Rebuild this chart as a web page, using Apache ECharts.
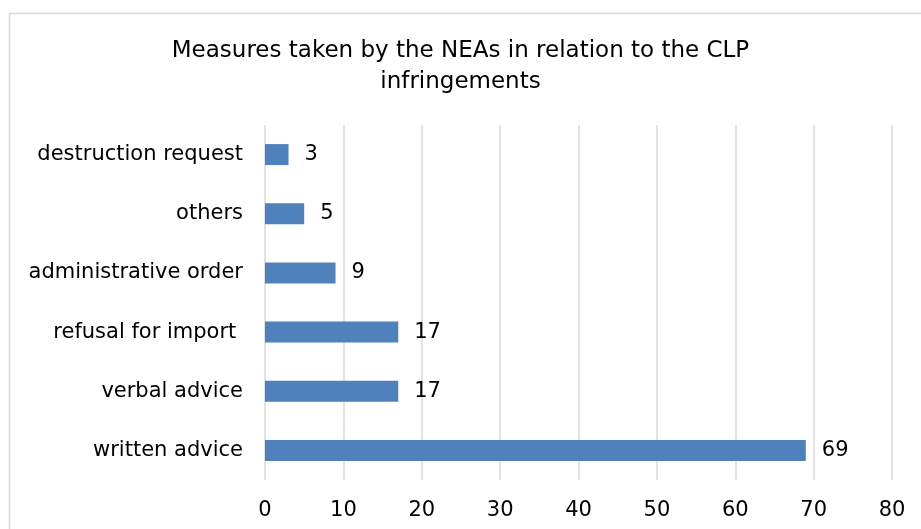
<!DOCTYPE html>
<html>
<head>
<meta charset="utf-8">
<script src="https://cdn.jsdelivr.net/npm/echarts@6/dist/echarts.min.js"></script>
<style>
  html, body { margin: 0; padding: 0; background: #fff; }
  #main { width: 921px; height: 529px; }
</style>
</head>
<body>
<div id="main"></div>
<script>
var myChart = echarts.init(document.getElementById('main'));

// categories bottom -> top (yAxis category order)
var categories = ['written advice', 'verbal advice', 'refusal for import ', 'administrative order', 'others', 'destruction request'];
var counts = [69, 17, 17, 9, 5, 3];
var xTicks = [0, 80, 10]; // min, max, step

var font = 'DejaVu Sans, Verdana, sans-serif';

var option = {
    backgroundColor: '#fff',
    animation: false,
    title: {
        text: 'Measures taken by the NEAs in relation to the CLP\ninfringements',
        left: 'center',
        top: 31,
        textStyle: {
            fontFamily: font,
            fontSize: 23,
            fontWeight: 'normal',
            color: '#000',
            lineHeight: 31
        }
    },
    graphic: [{
        type: 'rect',
        shape: { x: 9.5, y: 13.5, width: 940, height: 540 },
        style: { fill: 'none', stroke: '#d9d9d9', lineWidth: 1.5 },
        silent: true
    }],
    grid: {
        left: 265,
        right: 29,
        top: 125,
        bottom: 49
    },
    xAxis: {
        type: 'value',
        min: xTicks[0],
        max: xTicks[1],
        interval: xTicks[2],
        axisLine: { show: false },
        axisTick: { show: false },
        axisLabel: {
            fontFamily: font,
            fontSize: 21,
            color: '#000',
            margin: 20
        },
        splitLine: {
            lineStyle: { color: '#d9d9d9', width: 1.5 }
        }
    },
    yAxis: {
        type: 'category',
        data: categories,
        axisLine: { show: false },
        axisTick: { show: false },
        axisLabel: {
            fontFamily: font,
            fontSize: 21,
            color: '#000',
            margin: 22
        }
    },
    series: [{
        type: 'bar',
        data: counts,
        barWidth: 21,
        itemStyle: { color: '#4f81bd' },
        label: {
            show: true,
            position: 'right',
            distance: 16,
            fontFamily: font,
            fontSize: 21,
            color: '#000'
        }
    }]
};

myChart.setOption(option);
</script>
</body>
</html>
